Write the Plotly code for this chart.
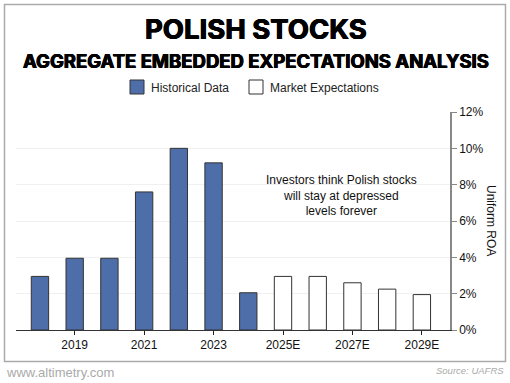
import plotly.graph_objects as go

hist_years = ["2018", "2019", "2020", "2021", "2022", "2023", "2024"]
hist_values = [2.95, 3.95, 3.95, 7.6, 10.0, 9.2, 2.05]
exp_years = ["2025E", "2026E", "2027E", "2028E", "2029E"]
exp_values = [2.95, 2.95, 2.6, 2.25, 1.95]
categories = hist_years + exp_years
x_tick_labels = ["2019", "2021", "2023", "2025E", "2027E", "2029E"]
y_ticks = [0, 2, 4, 6, 8, 10, 12]
series_names = ["Historical Data", "Market Expectations"]
series_colors = ["#4e6ea9", "#ffffff"]

FONT = "Liberation Sans"
W, H = 510, 383
pl, pr, pt, pb = 16, 60, 112, 53
pw, ph = W - pl - pr, H - pt - pb


def px(xp):
    return (xp - pl) / pw


def py(yp):
    return (H - pb - yp) / ph


fig = go.Figure()
fig.add_trace(go.Bar(
    x=hist_years, y=hist_values, name=series_names[0],
    marker=dict(color=series_colors[0], line=dict(color="#333333", width=1)),
    width=0.5,
))
fig.add_trace(go.Bar(
    x=exp_years, y=exp_values, name=series_names[1],
    marker=dict(color=series_colors[1], line=dict(color="#333333", width=1)),
    width=0.5,
))

fig.update_layout(
    width=W, height=H,
    margin=dict(l=pl, r=pr, t=pt, b=pb, autoexpand=False),
    paper_bgcolor="white", plot_bgcolor="white",
    font=dict(family=FONT, size=12, color="#111111"),
    showlegend=False,
    xaxis=dict(type="category", categoryorder="array", categoryarray=categories,
               range=[-0.69, 11.81], tickmode="array", tickvals=x_tick_labels,
               ticktext=x_tick_labels, ticks="outside", ticklen=4, tickcolor="#222",
               showline=True, linecolor="#333333", linewidth=1, showgrid=False,
               automargin=False,
               tickfont=dict(size=12, family=FONT, color="#111")),
    yaxis=dict(side="right", range=[0, 12], tickvals=y_ticks,
               ticktext=[f"{v}%" for v in y_ticks], ticks="outside", ticklen=5,
               tickcolor="#888888", showline=True, linecolor="#888888", linewidth=1.5,
               showgrid=True, gridcolor="#f0f0f0", gridwidth=1, zeroline=False,
               automargin=False,
               tickfont=dict(size=12, family=FONT, color="#111")),
    bargap=0.5,
)


def ann(text, x, y, **kw):
    fig.add_annotation(text=text, x=x, y=y, xref="paper", yref="paper",
                       showarrow=False, **kw)


thick = "0.5px 0 0 #000, -0.5px 0 0 #000, 0 0.4px 0 #000"
ann("<b>POLISH STOCKS</b>", px(256), py(28.5),
    font=dict(family="Inter", size=27.5, color="#000", weight=900, shadow=thick),
    xanchor="center", yanchor="middle")
ann("<b>AGGREGATE EMBEDDED EXPECTATIONS ANALYSIS</b>", px(256), py(61),
    font=dict(family="Inter", size=18.5, color="#000", weight=900, shadow=thick),
    xanchor="center", yanchor="middle")

# manual legend
for name, color, bx, tx in zip(series_names, series_colors, [130, 249], [149, 268]):
    fig.add_shape(type="rect", xref="paper", yref="paper",
                  x0=px(bx), x1=px(bx + 14), y0=py(94), y1=py(80),
                  fillcolor=color, line=dict(color="#333333", width=1))
    ann(name, px(tx), py(87.5), font=dict(family=FONT, size=12, color="#222"),
        xanchor="left", yanchor="middle")

ann("Investors think Polish stocks<br>will stay at depressed<br>levels forever",
    px(341), py(195), font=dict(family=FONT, size=12, color="#111"),
    xanchor="center", yanchor="middle", align="center")
ann("Uniform ROA", px(491), py(220), textangle=90,
    font=dict(family=FONT, size=12, color="#111"),
    xanchor="center", yanchor="middle")
ann("www.altimetry.com", px(4), py(372),
    font=dict(family=FONT, size=13, color="#aaaaaa"),
    xanchor="left", yanchor="middle")
ann("<i>Source: UAFRS</i>", px(506), py(370),
    font=dict(family=FONT, size=9.5, color="#aaaaaa"),
    xanchor="right", yanchor="middle")

fig.add_shape(type="rect", xref="paper", yref="paper",
              x0=px(4.5), x1=px(505.5), y0=py(361.5), y1=py(4.5),
              line=dict(color="#aaaaaa", width=1.5), fillcolor="rgba(0,0,0,0)",
              layer="below")

fig.write_html("out.html", config={"displayModeBar": False},
               post_script="document.body.style.margin='0';document.body.style.overflow='hidden';")
